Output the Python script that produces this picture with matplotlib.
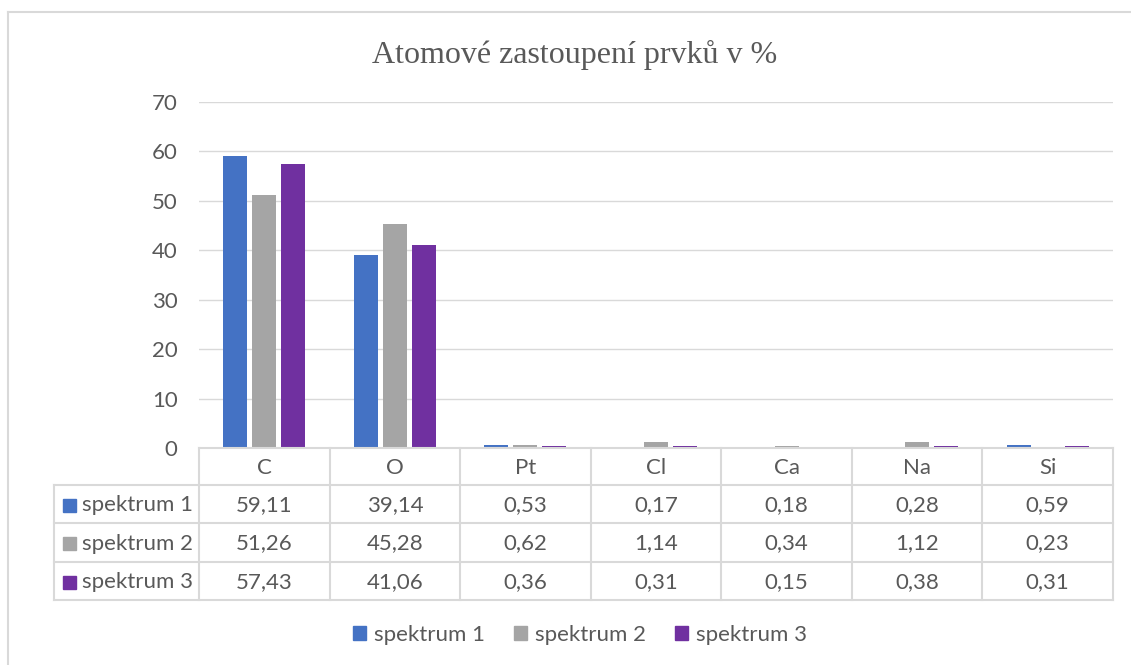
import matplotlib
matplotlib.use("Agg")
import matplotlib.pyplot as plt
from matplotlib.patches import Patch
from matplotlib.lines import Line2D
import numpy as np

categories = ["C", "O", "Pt", "Cl", "Ca", "Na", "Si"]
series_names = ["spektrum 1", "spektrum 2", "spektrum 3"]
spektrum_1 = [59.11, 39.14, 0.53, 0.17, 0.18, 0.28, 0.59]
spektrum_2 = [51.26, 45.28, 0.62, 1.14, 0.34, 1.12, 0.23]
spektrum_3 = [57.43, 41.06, 0.36, 0.31, 0.15, 0.38, 0.31]
yticks = [0, 10, 20, 30, 40, 50, 60, 70]
title = "Atomové zastoupení prvků v %"

colors = ["#4472C4", "#A5A5A5", "#7030A0"]
txt = "#595959"
grid = "#D9D9D9"
sans = ["Lato", "DejaVu Sans"]
FS = 16

W, H = 1131, 665
fig = plt.figure(figsize=(W / 100, H / 100), dpi=100)

def fx(px):
    return px / W

def fy(py):
    return 1 - py / H

# outer chart frame (left and top edges visible)
fig.add_artist(Line2D([fx(8), fx(8)], [fy(12), 0], color="#D9D9D9", lw=1.5))
fig.add_artist(Line2D([fx(8), 1], [fy(12), fy(12)], color="#D9D9D9", lw=1.5))

fig.text(fx(575), fy(55), title, ha="center", va="center",
         fontsize=23, color=txt, family=["Liberation Serif", "DejaVu Serif"])

# plot area
L, R, T, B = 199, 1113, 102, 448
ax = fig.add_axes([fx(L), fy(B), (R - L) / W, (B - T) / H])
x = np.arange(len(categories))
data = [spektrum_1, spektrum_2, spektrum_3]
bw = 0.184
step = 0.222
for i, (vals, c) in enumerate(zip(data, colors)):
    ax.bar(x + (i - 1) * step, vals, width=bw, color=c, zorder=3)
ax.set_xlim(-0.5, len(categories) - 0.5)
ax.set_ylim(0, 70)
ax.set_yticks(yticks)
ax.set_yticklabels([str(t) for t in yticks], family=sans, fontsize=FS, color=txt)
ax.set_xticks([])
ax.tick_params(axis="y", length=0, pad=15.5)
ax.grid(axis="y", color=grid, lw=1, zorder=0)
for s in ax.spines.values():
    s.set_visible(False)

# data table
rows_y = [448, 485, 523, 562, 600]
colw = (R - L) / len(categories)
TL = 54
tax = fig.add_axes([0, 0, 1, 1], facecolor="none")
tax.set_xlim(0, W)
tax.set_ylim(H, 0)
tax.axis("off")
lc = "#D9D9D9"
lw = 1.5
tax.plot([L, R], [rows_y[0], rows_y[0]], color=lc, lw=lw)
for yy in rows_y[1:]:
    tax.plot([TL, R], [yy, yy], color=lc, lw=lw)
for k in range(len(categories) + 1):
    xx = L + k * colw
    tax.plot([xx, xx], [rows_y[0], rows_y[-1]], color=lc, lw=lw)
tax.plot([TL, TL], [rows_y[1], rows_y[-1]], color=lc, lw=lw)

def fmt(v):
    return f"{v:.2f}".replace(".", ",")

for j, cat in enumerate(categories):
    cx = L + (j + 0.5) * colw
    tax.text(cx, (rows_y[0] + rows_y[1]) / 2 + 1, cat, ha="center", va="center",
             fontsize=FS, color=txt, family=sans)
for i, (name, vals, c) in enumerate(zip(series_names, data, colors)):
    cy = (rows_y[i + 1] + rows_y[i + 2]) / 2 + 1
    tax.add_patch(plt.Rectangle((63, cy - 6.5), 13, 13, color=c))
    tax.text(82, cy, name, ha="left", va="center", fontsize=FS, color=txt, family=sans)
    for j, v in enumerate(vals):
        cx = L + (j + 0.5) * colw
        tax.text(cx, cy, fmt(v), ha="center", va="center", fontsize=FS,
                 color=txt, family=sans)

handles = [Patch(color=c, label=n) for c, n in zip(colors, series_names)]
fig.legend(handles=handles, loc="center", bbox_to_anchor=(fx(580), fy(635)),
           ncol=3, frameon=False, prop={"family": sans, "size": FS},
           labelcolor=txt, handlelength=0.6, handleheight=0.6,
           handletextpad=0.35, columnspacing=1.3)

fig.savefig("out.png", dpi=100)
